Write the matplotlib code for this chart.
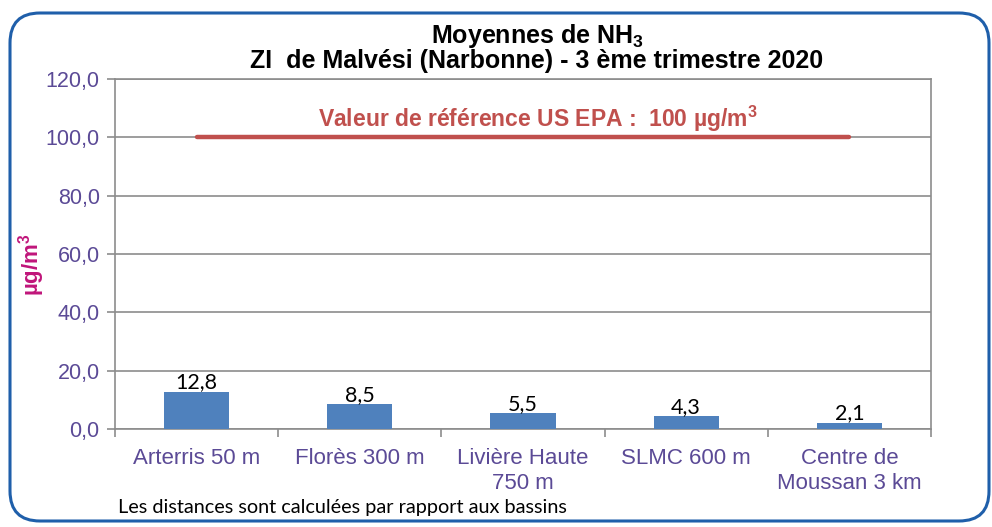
import numpy as np
import matplotlib.pyplot as plt
from matplotlib.patches import FancyBboxPatch

plt.rcParams['font.family'] = ['Liberation Sans', 'DejaVu Sans']
plt.rcParams['mathtext.fontset'] = 'custom'
plt.rcParams['mathtext.rm'] = 'Liberation Sans'
plt.rcParams['mathtext.bf'] = 'Liberation Sans:bold'

categories = ['Arterris 50 m', 'Florès 300 m', 'Livière Haute\n750 m',
              'SLMC 600 m', 'Centre de\nMoussan 3 km']
values = [12.8, 8.5, 5.5, 4.3, 2.1]
value_labels = ['12,8', '8,5', '5,5', '4,3', '2,1']
reference = [100, 100, 100, 100, 100]
yticks = [0, 20, 40, 60, 80, 100, 120]

purple = '#5B4A96'
grid = '#8C8C8C'

fig = plt.figure(figsize=(9.92, 5.27), dpi=100)
ax = fig.add_axes([0.1159, 0.186, 0.8226, 0.664])

# rounded frame around everything
frame = FancyBboxPatch((0.10, 0.06), 9.79, 5.08,
                       boxstyle='round,pad=0,rounding_size=0.3',
                       transform=fig.dpi_scale_trans, fill=False,
                       edgecolor='#1F5FAA', linewidth=2.2, zorder=0)
fig.patches.append(frame)

x = np.arange(len(categories))
ax.bar(x, values, width=0.4, color='#4F81BD', zorder=3)
for xi, v, lab in zip(x, values, value_labels):
    ax.annotate(lab, (xi, v), xytext=(0, -0.5), textcoords='offset points',
                ha='center', va='bottom', fontsize=15.5, family='Lato', color='black')

ax.plot(x, reference, color='#C0504D', linewidth=3.2, solid_capstyle='round', zorder=4)
ax.text(2.09, 106.5, 'Valeur de référence US EPA :  100 µg/m$^\\mathbf{3}$', color='#C0504D',
        fontsize=16.5, fontweight='bold', ha='center', va='center')

ax.set_xlim(-0.5, len(categories) - 0.5)
ax.set_ylim(0, 120)
ax.set_yticks(yticks)
ax.set_yticklabels([f'{t:.1f}'.replace('.', ',') for t in yticks])
ax.yaxis.grid(True, color=grid, linewidth=1.2)
ax.set_axisbelow(True)

ax.set_xticks(np.arange(-0.5, len(categories), 1.0))
ax.set_xticklabels([])
ax.set_xticks(x, minor=True)
ax.set_xticklabels(categories, minor=True)
ax.tick_params(axis='x', which='minor', length=0, pad=14, labelsize=16, labelcolor=purple)
ax.tick_params(axis='x', which='major', length=6, color=grid, width=1.2)
ax.tick_params(axis='y', length=6, color=grid, width=1.2, labelsize=15.5, labelcolor=purple, pad=5)
for s in ax.spines.values():
    s.set_color(grid)
    s.set_linewidth(1.2)

ax.set_ylabel('µg/m$^\\mathbf{3}$', color='#C0157A', fontsize=16, fontweight='bold')
ax.yaxis.set_label_coords(-0.083, 0.47)

# two-line title, centred a bit right of the axes
fig.text(537 / 992, 1 - 43 / 527, 'Moyennes de NH$_\\mathbf{3}$',
         fontsize=18, fontweight='bold', ha='center', va='baseline')
fig.text(537 / 992, 1 - 68 / 527, 'ZI  de Malvési (Narbonne) - 3 ème trimestre 2020',
         fontsize=18, fontweight='bold', ha='center', va='baseline')

fig.text(118 / 992, 1 - 508 / 527, 'Les distances sont calculées par rapport aux bassins',
         fontsize=14.3, family='Lato', va='center', ha='left')

fig.savefig('out.png', dpi=100)
